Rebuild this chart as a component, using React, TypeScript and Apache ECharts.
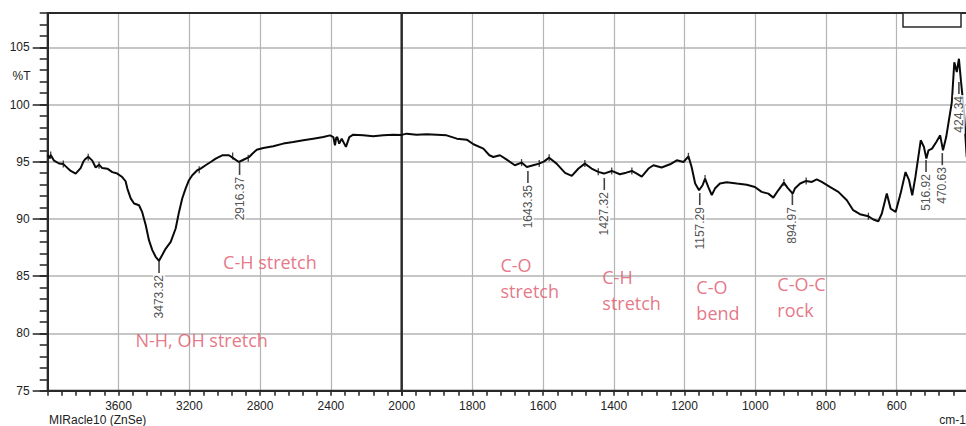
import React, { useEffect, useRef } from "react";
import * as echarts from "echarts";

// Spectrum, high-wavenumber part (4000 -> 2000 cm-1), %T
const wnLeft = [4000, 3990, 3983, 3964, 3936, 3912, 3898, 3870, 3842, 3814, 3799, 3790, 3771, 3748, 3729, 3710, 3692, 3663, 3635, 3607, 3579, 3560, 3550, 3531, 3512, 3484, 3466, 3446, 3428, 3409, 3390, 3371, 3353, 3334, 3305, 3277, 3258, 3240, 3221, 3202, 3183, 3155, 3136, 3108, 3079, 3051, 3014, 2976, 2948, 2920, 2891, 2863, 2844, 2819, 2782, 2726, 2669, 2613, 2556, 2500, 2443, 2405, 2386, 2377, 2370, 2364, 2353, 2339, 2315, 2296, 2274, 2217, 2161, 2104, 2048, 2000];
const tLeft = [95.6, 95.3, 95.6, 95.1, 94.85, 94.8, 94.6, 94.2, 93.97, 94.45, 95.0, 95.2, 95.45, 95.1, 94.5, 94.75, 94.45, 94.4, 94.1, 93.97, 93.67, 93.3, 92.66, 91.8, 91.35, 91.2, 90.6, 89.46, 88.15, 87.28, 86.7, 86.35, 86.85, 87.4, 88.0, 89.17, 90.62, 91.79, 92.66, 93.39, 93.82, 94.26, 94.4, 94.7, 94.98, 95.28, 95.57, 95.57, 95.28, 94.98, 95.2, 95.4, 95.7, 96.05, 96.2, 96.35, 96.59, 96.73, 96.88, 97.02, 97.16, 97.31, 97.16, 96.44, 97.1, 97.16, 96.59, 97.02, 96.3, 97.16, 97.37, 97.31, 97.23, 97.31, 97.37, 97.35];

// Spectrum, low-wavenumber part (2000 -> 400 cm-1), %T
const wnRight = [2000, 1986, 1958, 1929, 1901, 1873, 1844, 1816, 1797, 1769, 1752, 1741, 1722, 1703, 1680, 1661, 1646, 1628, 1611, 1597, 1583, 1562, 1538, 1519, 1500, 1482, 1463, 1444, 1428, 1406, 1383, 1365, 1349, 1335, 1321, 1302, 1288, 1265, 1241, 1222, 1203, 1189, 1180, 1170, 1159, 1149, 1142, 1133, 1123, 1114, 1100, 1081, 1052, 1024, 1001, 982, 963, 949, 935, 919, 909, 894, 888, 873, 856, 840, 826, 812, 789, 765, 741, 723, 704, 680, 666, 652, 642, 628, 617, 603, 589, 575, 565, 556, 547, 532, 523, 516, 510, 500, 488, 477, 469, 460, 444, 437, 430, 424, 418, 410, 402];
const tRight = [97.35, 97.46, 97.37, 97.4, 97.37, 97.31, 97.02, 96.93, 96.53, 96.15, 95.57, 95.42, 95.57, 95.19, 94.7, 94.93, 94.55, 94.7, 94.84, 95.04, 95.36, 94.84, 94.03, 93.77, 94.41, 94.84, 94.41, 94.12, 93.97, 94.2, 93.91, 94.05, 94.2, 93.97, 93.7, 94.41, 94.7, 94.5, 94.78, 95.13, 94.98, 95.48, 94.55, 93.1, 92.51, 92.95, 93.53, 92.8, 92.1, 92.66, 93.1, 93.21, 93.1, 93.0, 92.8, 92.37, 92.22, 91.87, 92.51, 93.18, 92.75, 92.22, 92.66, 93.1, 93.33, 93.24, 93.47, 93.24, 92.8, 92.37, 91.64, 90.77, 90.42, 90.24, 89.96, 89.8, 90.48, 92.22, 90.9, 90.62, 92.22, 94.1, 93.39, 92.08, 93.68, 96.88, 96.3, 95.28, 96.0, 96.15, 96.73, 97.31, 96.0, 97.16, 100.22, 103.7, 102.84, 104.0, 102.0, 99.5, 95.4];

// Picked peaks: where the marker sits, and the text printed beside it
const peakWn = [3371, 2916, 1643, 1427, 1157, 895, 517, 471, 424];
const peakT = [86.33, 94.9, 94.2, 93.58, 92.27, 92.27, 95.15, 95.76, 101.97];
const peakLabels = ["3473.32", "2916.37", "1643.35", "1427.32", "1157.29", "894.97", "516.92", "470.63", "424.34"];

// Small tick marks drawn across the curve
const tickWn = [3983, 3912, 3771, 3710, 3144, 2955, 2867, 1661, 1611, 1583, 1482, 1444, 1406, 1349, 1189, 1142, 919, 856, 680];
const tickT = [95.6, 94.8, 95.4, 94.7, 94.3, 95.5, 95.3, 94.93, 94.84, 95.36, 94.84, 94.12, 94.2, 94.2, 95.48, 93.53, 93.18, 93.33, 90.24];

// Band assignments (red notes)
const annoText = ["C-H stretch", "N-H, OH stretch", "C-O\nstretch", "C-H\nstretch", "C-O\nbend", "C-O-C\nrock"];
const annoWn = [3012, 3507, 1722, 1434, 1168, 939];
const annoT = [86.27, 79.43, 84.82, 83.77, 82.9, 83.16];

const AXIS_FONT = "'Liberation Sans', Arial, Helvetica, sans-serif";
const INK = "#222";
const GRID_V = "#b4b4b4";
const GRID_H = "#c6c6c6";
const RED = "#de5468";

export default function App() {
  const ref = useRef<HTMLDivElement>(null);

  useEffect(() => {
    if (!ref.current) return;
    const chart = echarts.init(ref.current, null, { renderer: "svg" });

    const isLeft = (w: number) => w >= 2000;
    const peaks = peakWn.map((w, i) => ({ value: [w, peakT[i]], name: peakLabels[i] }));
    const ticks = tickWn.map((w, i) => [w, tickT[i]]);
    const annos = annoWn.map((w, i) => ({ value: [w, annoT[i]], name: annoText[i] }));

    const lineSeries = (idx: number, wn: number[], t: number[]) => ({
      type: "line", xAxisIndex: idx, yAxisIndex: idx,
      data: wn.map((w, i) => [w, t[i]]),
      showSymbol: false, symbol: "none",
      lineStyle: { color: "#0a0a0a", width: 2 }, z: 3,
    });
    const peakSeries = (idx: number, data: any[]) => ({
      type: "scatter", xAxisIndex: idx, yAxisIndex: idx, data,
      symbol: "rect", symbolSize: [1.6, 12], symbolOffset: [0, 6],
      itemStyle: { color: "#111" }, z: 5,
      label: {
        show: true, formatter: "{b}", position: "bottom", distance: 1, rotate: 90,
        align: "right", verticalAlign: "middle", color: INK, fontFamily: AXIS_FONT, fontSize: 12,
        backgroundColor: "#fff", padding: [0, 1, 0, 1],
      },
    });
    const tickSeries = (idx: number, data: any[]) => ({
      type: "scatter", xAxisIndex: idx, yAxisIndex: idx, data,
      symbol: "rect", symbolSize: [1.3, 7], itemStyle: { color: "#111" }, z: 4,
    });
    const annoSeries = (idx: number, data: any[]) => ({
      type: "scatter", xAxisIndex: idx, yAxisIndex: idx, data,
      symbolSize: 1, itemStyle: { color: "rgba(0,0,0,0)" }, z: 6,
      label: {
        show: true, formatter: "{b}", position: "right", distance: 0, align: "left", verticalAlign: "middle",
        color: RED, fontFamily: "'Open Sans', 'Noto Sans', sans-serif", fontSize: 18, lineHeight: 26,
      },
    });

    const xCommon = {
      type: "value", inverse: true,
      axisLine: { show: true, onZero: false, lineStyle: { color: INK, width: 2 } },
      axisTick: { show: true, length: 5, lineStyle: { color: INK, width: 1.5 } },
      minorTick: { show: true, splitNumber: 5, length: 5, lineStyle: { color: INK, width: 1.5 } },
      splitLine: { show: true, lineStyle: { color: GRID_V, width: 1.2, type: "solid" } },
      minorSplitLine: { show: false },
      axisLabel: { color: INK, fontFamily: AXIS_FONT, fontSize: 12, margin: 9 },
    };

    // y axis used only to draw the horizontal grid lines inside a data grid
    const hGridAxis = (grid: number) => ({
      type: "value", gridIndex: grid, min: 75, max: 108, interval: 5,
      axisLine: { show: false }, axisTick: { show: false }, axisLabel: { show: false },
      splitLine: { show: true, lineStyle: { color: GRID_H, width: 2, type: "solid" } },
    });

    const option: any = {
      animation: false,
      grid: [
        { left: 47.7, top: 13, width: 354, height: 377.7, show: true, borderColor: "#2a2a2a", borderWidth: 2, backgroundColor: "rgba(0,0,0,0)", containLabel: false, outerBoundsMode: "none", z: 1 },
        { left: 401.7, top: 13, width: 565.7, height: 377.7, show: true, borderColor: "#2a2a2a", borderWidth: 2, backgroundColor: "rgba(0,0,0,0)", containLabel: false, outerBoundsMode: "none", z: 1 },
        { left: 47.7, top: 47.3, width: 918.3, height: 343.4, show: false, containLabel: false, outerBoundsMode: "none" },
      ],
      xAxis: [
        { ...xCommon, gridIndex: 0, min: 2000, max: 4000, interval: 400,
          axisLabel: { ...xCommon.axisLabel, formatter: (v: number) => (v === 2000 || v === 4000 ? "" : String(v)) } },
        { ...xCommon, gridIndex: 1, min: 400, max: 2000, interval: 200,
          axisLabel: { ...xCommon.axisLabel, formatter: (v: number) => (v === 400 ? "" : String(v)) } },
        { type: "value", gridIndex: 2, min: 0, max: 1, show: false },
      ],
      yAxis: [
        { type: "value", gridIndex: 0, min: 75, max: 108, interval: 1,
          axisLine: { show: true, onZero: false, lineStyle: { color: INK, width: 2 } },
          axisTick: { show: true, length: 8, lineStyle: { color: INK, width: 1.5 } },
          axisLabel: { show: false }, splitLine: { show: false } },
        { type: "value", gridIndex: 1, min: 75, max: 108, show: false, splitLine: { show: false } },
        { type: "value", gridIndex: 2, min: 75, max: 105, interval: 5,
          axisLine: { show: false },
          axisTick: { show: true, length: 15, lineStyle: { color: INK, width: 1.5 } },
          axisLabel: { show: true, color: INK, fontFamily: AXIS_FONT, fontSize: 12, margin: 18 },
          splitLine: { show: false } },
        hGridAxis(0),
        hGridAxis(1),
      ],
      series: [
        lineSeries(0, wnLeft, tLeft),
        lineSeries(1, wnRight, tRight),
        tickSeries(0, ticks.filter((d) => isLeft(d[0]))),
        tickSeries(1, ticks.filter((d) => !isLeft(d[0]))),
        peakSeries(0, peaks.filter((d) => isLeft(d.value[0]))),
        peakSeries(1, peaks.filter((d) => !isLeft(d.value[0]))),
        annoSeries(0, annos.filter((d) => isLeft(d.value[0]))),
        annoSeries(1, annos.filter((d) => !isLeft(d.value[0]))),
      ],
      graphic: [
        { type: "rect", shape: { x: 903, y: 13, width: 58, height: 14 }, style: { fill: "#fff", stroke: "#2a2a2a", lineWidth: 1.5 }, z: 10 },
        { type: "text", x: 12.5, y: 76, style: { text: "%T", fill: INK, font: `12px ${AXIS_FONT}`, verticalAlign: "middle", align: "left" } },
        { type: "text", x: 49, y: 420, style: { text: "MIRacle10 (ZnSe)", fill: INK, font: `12px ${AXIS_FONT}`, verticalAlign: "middle", align: "left" } },
        { type: "text", x: 966, y: 420, style: { text: "cm-1", fill: INK, font: `12px ${AXIS_FONT}`, verticalAlign: "middle", align: "right" } },
      ],
    };

    chart.setOption(option);
    return () => chart.dispose();
  }, []);

  return <div ref={ref} style={{ position: "fixed", left: 0, top: 0, width: 966, height: 426, background: "#fff" }} />;
}
